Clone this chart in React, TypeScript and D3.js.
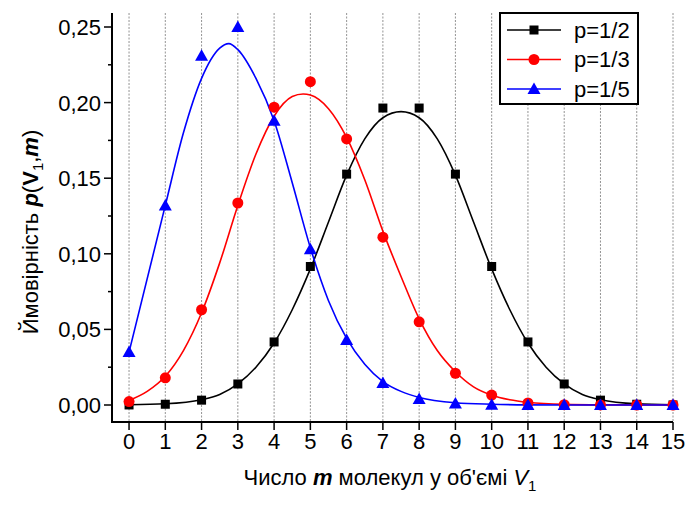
import * as d3 from 'd3';

// number of molecules m in volume V1
const mValues = [0, 1, 2, 3, 4, 5, 6, 7, 8, 9, 10, 11, 12, 13, 14, 15];

// probabilities (markers)
const halfPoints = [0.00003, 0.0005, 0.0032, 0.0139, 0.0417, 0.0916, 0.1527, 0.1964, 0.1964, 0.1527, 0.0916, 0.0417, 0.0139, 0.0032, 0.0005, 0.00003];
const thirdPoints = [0.0023, 0.018, 0.063, 0.1336, 0.197, 0.2138, 0.176, 0.111, 0.055, 0.021, 0.0066, 0.0014, 0.0002, 0.00003, 0, 0];
const fifthPoints = [0.035, 0.132, 0.231, 0.25, 0.188, 0.103, 0.043, 0.0145, 0.004, 0.001, 0.0001, 0, 0, 0, 0, 0];

// fitted curves, sampled from the chart as [m, p]
const halfCurve: [number, number][] = [
  [0, 0.0002], [1, 0.0008], [2, 0.0035], [2.5, 0.007], [3, 0.014], [3.5, 0.025], [4, 0.041],
  [4.5, 0.063], [5, 0.09], [5.5, 0.121], [6, 0.152], [6.5, 0.176], [7, 0.19], [7.5, 0.194],
  [8, 0.19], [8.5, 0.176], [9, 0.152], [9.5, 0.121], [10, 0.09], [10.5, 0.063], [11, 0.041],
  [11.5, 0.025], [12, 0.014], [12.5, 0.007], [13, 0.0035], [14, 0.0008], [15, 0.0002],
];
const thirdCurve: [number, number][] = [
  [0, 0.003], [0.5, 0.009], [1, 0.019], [1.5, 0.036], [2, 0.061], [2.5, 0.094], [3, 0.132],
  [3.5, 0.166], [4, 0.191], [4.5, 0.204], [4.8, 0.2057], [5, 0.205], [5.5, 0.196], [6, 0.177],
  [6.5, 0.149], [7, 0.115], [7.5, 0.085], [8, 0.057], [8.5, 0.036], [9, 0.022], [9.5, 0.012],
  [10, 0.0065], [10.5, 0.0035], [11, 0.0018], [12, 0.0004], [13, 0.0001], [15, 0],
];
const fifthCurve: [number, number][] = [
  [0, 0.035], [1, 0.132], [1.5, 0.18], [2, 0.216], [2.5, 0.236], [2.75, 0.239], [3, 0.235],
  [3.5, 0.216], [4, 0.188], [4.5, 0.147], [5, 0.104], [5.5, 0.069], [6, 0.044], [6.5, 0.027],
  [7, 0.0155], [7.5, 0.009], [8, 0.005], [9, 0.0015], [10, 0.0005], [11, 0.0001], [12, 0], [15, 0],
];

const yTicks = [0, 0.05, 0.1, 0.15, 0.2, 0.25];
const yMinorTicks = [0.025, 0.075, 0.125, 0.175, 0.225];
const legendLabels = ['p=1/2', 'p=1/3', 'p=1/5'];

const FONT = '"Liberation Sans", Arial, sans-serif';

const series = [
  { label: legendLabels[0], color: '#000000', shape: 'square', points: halfPoints, curve: halfCurve },
  { label: legendLabels[1], color: '#ff0000', shape: 'circle', points: thirdPoints, curve: thirdCurve },
  { label: legendLabels[2], color: '#0000ff', shape: 'triangle', points: fifthPoints, curve: fifthCurve },
];

function Marker({ shape, x, y, color }: { shape: string; x: number; y: number; color: string }) {
  if (shape === 'square') return <rect x={x - 4.5} y={y - 4.5} width={9} height={9} fill={color} />;
  if (shape === 'circle') return <circle cx={x} cy={y} r={5.5} fill={color} />;
  return <path d={`M${x},${y - 6.5}L${x + 6.5},${y + 5}L${x - 6.5},${y + 5}Z`} fill={color} />;
}

export default function App() {
  const width = 692;
  const height = 505;
  const left = 112;
  const right = 673;
  const top = 13;
  const bottom = 422;

  const x = d3.scaleLinear().domain([-0.47, 15]).range([left, right]);
  const y = d3.scaleLinear().domain([0, 0.25]).range([405, 27]);

  const line = d3.line<[number, number]>()
    .x(d => x(d[0]))
    .y(d => y(d[1]))
    .curve(d3.curveMonotoneX);

  const fmt = (v: number) => v.toFixed(2).replace('.', ',');

  return (
    <svg width={width} height={height} style={{ position: 'absolute', left: 0, top: 0, background: '#fff' }}>
      {/* dotted grid */}
      {mValues.map(m => (
        <line key={'g' + m} x1={x(m)} x2={x(m)} y1={top} y2={bottom}
          stroke="#777" strokeWidth={0.8} strokeDasharray="2,1.5" />
      ))}

      {/* curves */}
      {series.map(s => (
        <path key={'c' + s.label} d={line(s.curve) || ''} fill="none" stroke={s.color} strokeWidth={1.6} />
      ))}

      {/* markers */}
      {series.map(s => (
        <g key={'m' + s.label}>
          {s.points.map((v, i) => (
            <Marker key={i} shape={s.shape} x={x(mValues[i])} y={y(v)} color={s.color} />
          ))}
        </g>
      ))}

      {/* axes */}
      <line x1={left} x2={left} y1={top} y2={bottom + 1} stroke="#000" strokeWidth={2} />
      <line x1={left} x2={right} y1={bottom} y2={bottom} stroke="#000" strokeWidth={2} />
      {yTicks.map(t => (
        <g key={'yt' + t}>
          <line x1={left - 8} x2={left} y1={y(t)} y2={y(t)} stroke="#000" strokeWidth={1.5} />
          <text x={left - 11} y={y(t)} dy="0.36em" textAnchor="end" fontFamily={FONT} fontSize={22}>{fmt(t)}</text>
        </g>
      ))}
      {yMinorTicks.map(t => (
        <line key={'ym' + t} x1={left - 4} x2={left} y1={y(t)} y2={y(t)} stroke="#000" strokeWidth={1.5} />
      ))}
      {mValues.map(m => (
        <g key={'xt' + m}>
          <line x1={x(m)} x2={x(m)} y1={bottom} y2={bottom + 8} stroke="#000" strokeWidth={1.5} />
          <text x={x(m)} y={bottom + 27} textAnchor="middle" fontFamily={FONT} fontSize={22}>{m}</text>
        </g>
      ))}

      {/* axis titles */}
      <text x={390} y={485} textAnchor="middle" fontFamily={FONT} fontSize={22}>
        Число <tspan fontWeight="bold" fontStyle="italic">m</tspan> молекул у об'ємі <tspan fontStyle="italic">V</tspan>
        <tspan fontSize={15} dy={6}>1</tspan>
      </text>
      <text transform="translate(38,232) rotate(-90)" textAnchor="middle" fontFamily={FONT} fontSize={22}>
        Ймовірність  <tspan fontWeight="bold" fontStyle="italic">p</tspan>(<tspan fontWeight="bold">V</tspan>
        <tspan fontSize={15} dy={5}>1</tspan><tspan dy={-5}>,</tspan>
        <tspan fontWeight="bold" fontStyle="italic">m</tspan>)
      </text>

      {/* legend */}
      <rect x={500} y={13} width={138} height={91} fill="#fff" stroke="#000" strokeWidth={2} />
      {series.map((s, i) => (
        <g key={'l' + s.label} transform={`translate(0, ${30 + i * 29.5})`}>
          <line x1={507} x2={561} y1={0} y2={0} stroke={s.color} strokeWidth={1.6} />
          <Marker shape={s.shape} x={534} y={0} color={s.color} />
          <text x={574} y={0} dy="0.36em" fontFamily={FONT} fontSize={22}>{s.label}</text>
        </g>
      ))}
    </svg>
  );
}
